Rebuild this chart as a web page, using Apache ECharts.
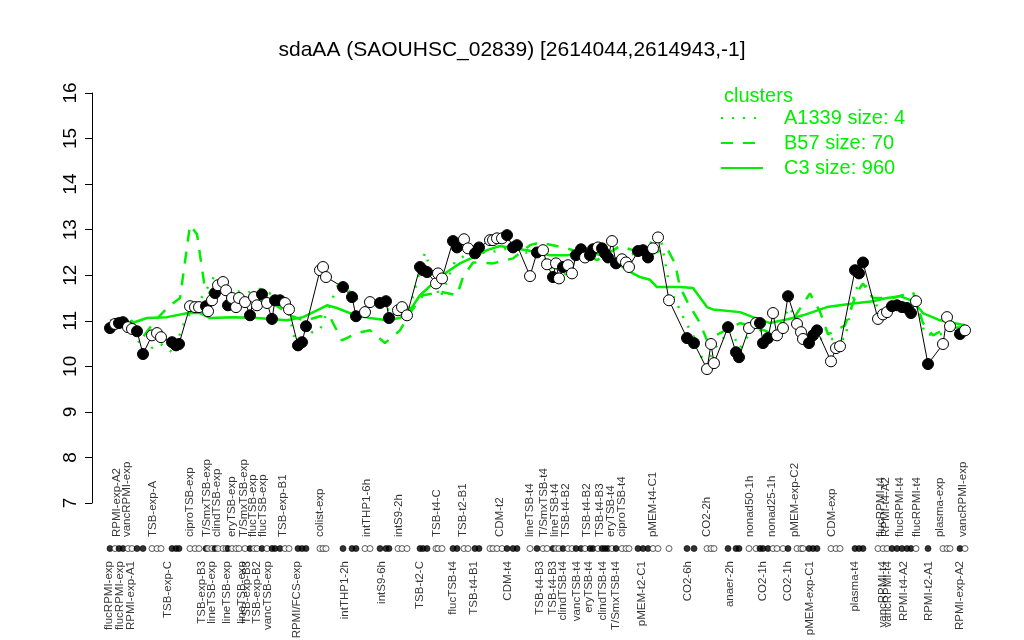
<!DOCTYPE html>
<html>
<head>
<meta charset="utf-8">
<script src="https://cdn.jsdelivr.net/npm/echarts@6/dist/echarts.min.js"></script>
<style>
  html, body { margin: 0; padding: 0; background: #fff; }
  #chart { width: 1024px; height: 640px; }
</style>
</head>
<body>
<div id="chart"></div>
<script>
// sample positions along the x axis, expression values, and whether the dot is filled
const sampleX = [110,115,119,123,128,132,137,143,152,157,161,172,176,179,190,195,199,206,208,212,
  215,218,223,226,228,232,236,239,245,250,254,257,262,267,272,275,280,285,289,298,
  302,306,320,323,326,343,352,356,365,370,380,386,389,398,402,407,420,423,427,436,
  438,442,453,457,464,468,475,479,490,493,497,502,507,513,517,530,537,543,547,553,
  556,559,563,568,572,576,581,585,590,593,598,602,605,608,612,616,622,626,629,638,
  643,648,653,658,669,687,694,707,711,714,728,736,739,749,756,760,763,768,773,777,
  783,788,797,801,803,809,813,817,831,836,840,855,859,863,878,883,887,892,897,902,
  907,911,916,928,943,947,950,960,965]
const sampleVal = [10.84,10.93,10.95,10.97,10.86,10.82,10.77,10.27,10.68,10.73,10.64,10.53,10.46,10.49,11.32,11.30,11.30,11.32,11.21,11.45,
  11.61,11.78,11.85,11.67,11.34,11.50,11.30,11.50,11.41,11.12,11.52,11.34,11.58,11.39,11.04,11.45,11.45,11.39,11.25,10.46,
  10.53,10.88,12.11,12.18,11.96,11.74,11.52,11.10,11.19,11.41,11.39,11.43,11.06,11.23,11.30,11.12,12.18,12.11,12.07,11.82,
  12.04,11.93,12.75,12.61,12.79,12.59,12.48,12.61,12.77,12.77,12.81,12.81,12.88,12.61,12.66,11.98,12.50,12.55,12.24,11.96,
  12.26,11.93,12.18,12.22,12.04,12.44,12.57,12.39,12.44,12.57,12.61,12.59,12.48,12.39,12.75,12.26,12.35,12.28,12.18,12.53,
  12.55,12.39,12.59,12.83,11.45,10.62,10.51,9.94,10.49,10.07,10.86,10.31,10.20,10.84,10.95,10.95,10.51,10.62,11.17,10.68,
  10.84,11.54,10.93,10.75,10.60,10.51,10.68,10.79,10.11,10.40,10.44,12.11,12.04,12.28,11.04,11.14,11.19,11.32,11.34,11.30,
  11.28,11.17,11.43,10.05,10.49,11.08,10.88,10.71,10.79]
const sampleFilled = [1,0,1,1,0,0,1,1,0,0,0,1,1,1,0,0,0,1,0,0,
  1,0,0,0,1,0,0,0,0,1,0,0,1,0,1,1,1,0,0,1,
  1,1,0,0,0,1,1,1,0,0,1,1,1,0,0,0,1,1,1,0,
  0,0,1,1,0,0,1,1,0,0,0,0,1,1,1,0,1,0,0,1,
  0,0,1,0,0,1,1,0,1,1,0,1,1,1,0,1,0,0,0,1,
  1,1,0,0,0,1,1,0,0,0,1,1,1,0,0,1,1,1,0,0,
  0,1,0,0,0,1,1,1,0,0,0,1,1,1,0,0,0,1,1,1,
  1,1,0,1,0,0,0,1,0]

// cluster profiles
const c3X = [110,132,147,167,188,200,210,233,257,287,303,317,327,337,353,370,387,400,410,420,
  433,447,460,473,487,500,513,527,550,567,580,597,610,627,640,650,657,680,693,707,
  713,740,753,770,793,803,827,853,873,887,900,913,923,940,965]
const c3Val = [10.9,10.95,11.06,11.08,11.17,11.17,11.06,11.08,11.06,11.01,11.08,11.23,11.34,11.28,11.14,11.06,11.01,11.06,11.23,11.56,
  11.82,12.07,12.26,12.39,12.55,12.64,12.59,12.55,12.44,12.44,12.48,12.46,12.39,12.11,11.96,11.9,11.74,11.74,11.72,11.30,
  11.25,11.19,11.08,10.95,11.06,11.12,11.30,11.38,11.43,11.5,11.54,11.43,11.17,11.01,10.9]
const b57X = [110,130,143,155,168,180,190,197,205,215,235,255,275,292,305,320,330,342,357,370,
  385,400,410,423,442,457,463,473,493,513,530,540,567,580,597,620,633,650,667,675,
  680,688,700,707,720,740,757,775,795,810,820,828,845,857,863,873,893,913,923,933,947,963]
const b57Val = [11.0,11.05,10.64,11.0,11.3,11.5,13.1,12.9,11.7,11.5,11.5,11.45,11.35,11.1,11.0,11.1,11.08,10.57,10.73,10.79,
  10.51,10.79,11.17,11.56,11.63,11.56,11.96,12.28,12.26,12.37,12.66,12.72,12.59,12.5,12.33,12.64,12.55,12.45,12.59,12.26,
  11.74,11.39,10.95,10.57,10.73,10.95,10.85,10.7,11.1,11.6,11.2,10.7,10.9,11.63,11.82,11.5,11.5,11.63,10.95,10.68,10.85,10.85]
const a1339X = [110,130,143,160,173,185,200,215,230,245,260,270,285,298,305,320,340,355,365,380,
  395,410,425,440,455,470,490,510,525,540,560,580,600,620,640,660,670,685,695,705,
  715,730,740,755,770,790,800,815,830,845,855,865,880,900,915,925,940,955,965]
const a1339Val = [11.0,11.05,10.3,10.5,10.3,11.0,11.45,12.0,11.7,11.6,11.7,11.6,11.5,10.3,10.7,10.8,11.9,11.5,11.4,11.3,
  11.2,11.3,12.5,11.5,12.3,12.5,12.5,12.6,12.5,12.5,11.9,12.4,12.5,12.4,12.5,12.9,11.7,11.0,10.6,10.0,
  10.4,10.8,10.4,10.9,10.6,11.3,10.8,10.6,10.6,10.6,11.7,11.8,11.2,11.3,11.5,10.7,10.7,10.9,10.8]

// sample names shown above and below the rug
const topNames = ['RPMI-exp-A2','vancRPMI-exp','TSB-exp-A','ciproTSB-exp','T/SmxTSB-exp','clindTSB-exp','eryTSB-exp','T/SmxTSB-exp','flucTSB-exp','flucTSB-exp',
  'TSB-exp-B1','colist-exp','intTHP1-6h','intS9-2h','TSB-t4-C','TSB-t2-B1','CDM-t2','lineTSB-t4','T/SmxTSB-t4','lineTSB-t4',
  'TSB-t4-B2','TSB-t4-B2','TSB-t4-B3','eryTSB-t4','ciproTSB-t4','pMEM-t4-C1','CO2-2h','nonad50-1h','nonad25-1h','pMEM-exp-C2',
  'CDM-exp','flucRPMI-t4','RPMI-t4-A2','flucRPMI-t4','flucRPMI-t4','plasma-exp','vancRPMI-exp']
const topX = [117,127,153,190,207,217,232,244,253,263,283,320,367,399,437,463,500,530,544,555,
  566,587,600,611,622,653,707,750,772,795,832,881,886,900,917,940,963]
const bottomNames = ['flucRPMI-exp','flucRPMI-exp','RPMI-exp-A1','TSB-exp-C','TSB-exp-B3','lineTSB-exp','lineTSB-exp','lineTSB-exp','TSB-exp-B3','TSB-exp-B2',
  'vancTSB-exp','RPMI/FCS-exp','intTHP1-2h','intS9-6h','TSB-t2-C','flucTSB-t4','TSB-t4-B1','CDM-t4','TSB-t4-B3','TSB-t4-B3',
  'clindTSB-t4','vancTSB-t4','eryTSB-t4','clindTSB-t4','T/SmxTSB-t4','pMEM-t2-C1','CO2-6h','anaer-2h','CO2-1h','CO2-1h',
  'pMEM-exp-C1','plasma-t4','vancRPMI-t4','vancRPMI-t4','RPMI-t4-A2','RPMI-t2-A1','RPMI-exp-A2']
const bottomX = [109,120,131,168,202,212,227,242,247,257,268,297,345,382,420,453,474,508,540,553,
  563,577,589,603,616,642,688,730,763,788,810,855,883,888,904,929,960]

const rugLevel = 6
const green = '#00ee00'
const font = 'Liberation Sans, Arial, sans-serif'

const zip = (xs, ys) => xs.map((x, i) => [x, ys[i]])

const samplePoints = sampleX.map((x, i) => ({
  value: [x, sampleVal[i]],
  itemStyle: { color: sampleFilled[i] ? '#000' : '#fff', borderColor: '#000', borderWidth: 1 }
}))
const rugPoints = sampleX.map((x, i) => ({
  value: [x, rugLevel],
  itemStyle: { color: sampleFilled[i] ? '#000' : '#fff', borderColor: '#000', borderWidth: 0.8 }
}))

const chart = echarts.init(document.getElementById('chart'))
chart.setOption({
  animation: false,
  title: [
    {
      text: 'sdaAA (SAOUHSC_02839) [2614044,2614943,-1]',
      left: 'center', top: 35,
      textStyle: { fontFamily: font, fontSize: 21, fontWeight: 'normal', color: '#000' }
    },
    {
      text: 'clusters',
      left: 719, top: 81,
      textStyle: { fontFamily: font, fontSize: 20, fontWeight: 'normal', color: green }
    }
  ],
  legend: {
    data: ['A1339 size: 4', 'B57 size: 70', 'C3 size: 960'],
    orient: 'vertical',
    left: 720, top: 108,
    padding: 0,
    itemWidth: 42, itemHeight: 22, itemGap: 5,
    itemStyle: { opacity: 0 },
    textStyle: { fontFamily: font, fontSize: 20, color: green, padding: [0, 0, 0, 16] }
  },
  grid: { left: 92, right: 49, top: 93, bottom: 137 },
  xAxis: { type: 'value', min: 92, max: 975, show: false },
  yAxis: {
    type: 'value', min: 7, max: 16, interval: 1,
    splitLine: { show: false },
    axisLine: { show: true, lineStyle: { color: '#000', width: 1 } },
    axisTick: { show: true, length: 7, lineStyle: { color: '#000' } },
    axisLabel: { rotate: 90, margin: 12, fontFamily: font, fontSize: 19, color: '#000' }
  },
  series: [
    {
      name: 'A1339 size: 4', type: 'line', data: zip(a1339X, a1339Val),
      symbol: 'none', z: 1,
      lineStyle: { color: green, width: 2.5, type: [2, 9] },
      itemStyle: { color: green }
    },
    {
      name: 'B57 size: 70', type: 'line', data: zip(b57X, b57Val),
      symbol: 'none', z: 1,
      lineStyle: { color: green, width: 2.5, type: [12, 10] },
      itemStyle: { color: green }
    },
    {
      name: 'C3 size: 960', type: 'line', data: zip(c3X, c3Val),
      symbol: 'none', z: 1,
      lineStyle: { color: green, width: 2.5 },
      itemStyle: { color: green }
    },
    {
      name: 'samples', type: 'line', data: samplePoints,
      symbol: 'circle', symbolSize: 11, z: 3,
      lineStyle: { color: '#000', width: 1 }
    },
    {
      name: 'rug', type: 'scatter', data: rugPoints,
      symbol: 'circle', symbolSize: 6, clip: false, z: 3
    },
    {
      name: 'topNames', type: 'scatter', clip: false,
      data: zip(topX, topX.map(() => rugLevel)),
      symbolSize: 1, itemStyle: { color: 'rgba(0,0,0,0)' },
      label: {
        show: true, position: 'top', distance: 11, rotate: 90,
        align: 'left', verticalAlign: 'middle',
        fontFamily: font, fontSize: 11.5, color: '#000',
        formatter: p => topNames[p.dataIndex]
      }
    },
    {
      name: 'bottomNames', type: 'scatter', clip: false,
      data: zip(bottomX, bottomX.map(() => rugLevel)),
      symbolSize: 1, itemStyle: { color: 'rgba(0,0,0,0)' },
      label: {
        show: true, position: 'bottom', distance: 12, rotate: 90,
        align: 'right', verticalAlign: 'middle',
        fontFamily: font, fontSize: 11.5, color: '#000',
        formatter: p => bottomNames[p.dataIndex]
      }
    }
  ]
})
</script>
</body>
</html>
